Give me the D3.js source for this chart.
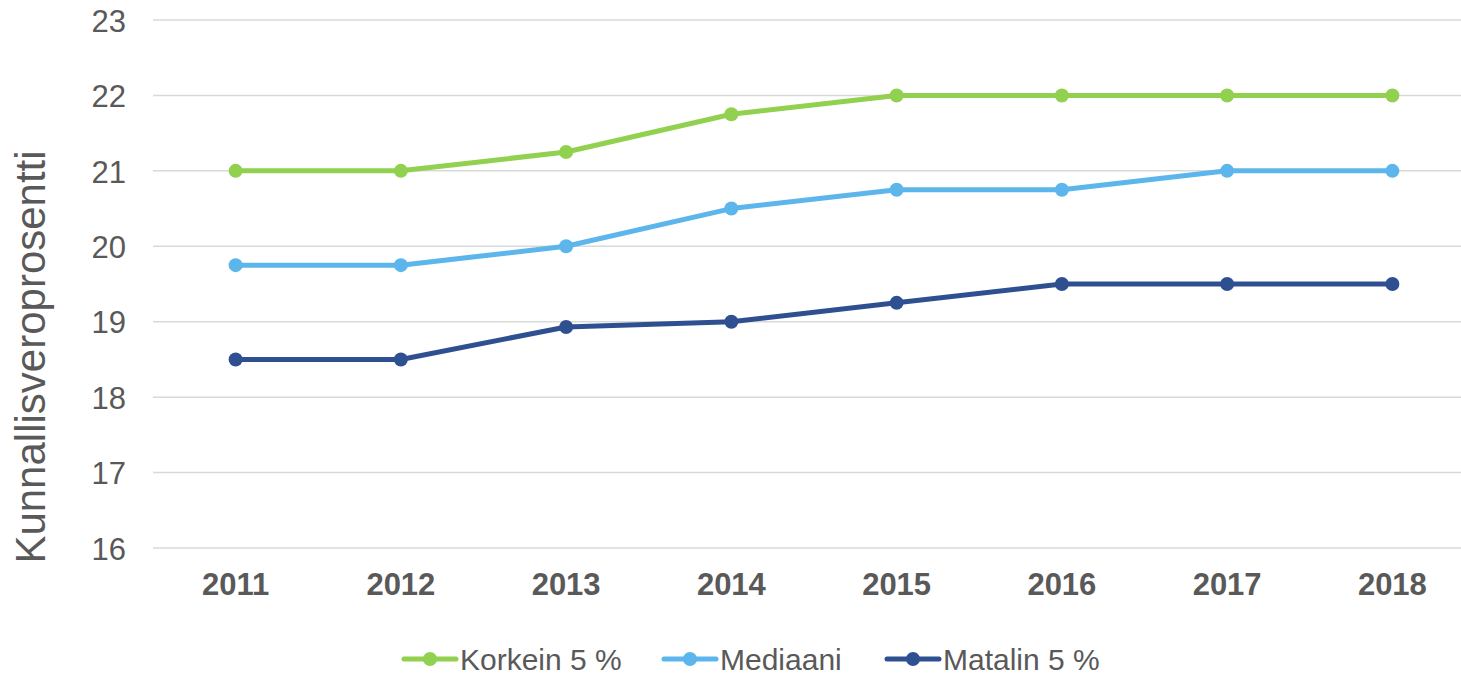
<!DOCTYPE html>
<html>
<head>
<meta charset="utf-8">
<script src="https://cdn.jsdelivr.net/npm/d3@7"></script>
<style>
  body { margin: 0; background: #fff; }
  text { font-family: "Liberation Sans", Arial, sans-serif; fill: #595959; }
</style>
</head>
<body>
<svg id="chart" width="1461" height="675"></svg>
<script>
// data
var years = ["2011", "2012", "2013", "2014", "2015", "2016", "2017", "2018"];
var korkein = [21, 21, 21.25, 21.75, 22, 22, 22, 22];
var mediaani = [19.75, 19.75, 20, 20.5, 20.75, 20.75, 21, 21];
var matalin = [18.5, 18.5, 18.93, 19, 19.25, 19.5, 19.5, 19.5];
var seriesNames = ["Korkein 5 %", "Mediaani", "Matalin 5 %"];
var seriesColors = ["#92d050", "#5cb6ec", "#2f5090"];
var yTicks = [16, 17, 18, 19, 20, 21, 22, 23];

var svg = d3.select("#chart");

var plotLeft = 153, plotRight = 1475, plotTop = 20, plotBottom = 548;

var x = d3.scaleBand().domain(years).range([plotLeft, plotRight]);
var y = d3.scaleLinear().domain([16, 23]).range([plotBottom, plotTop]);

// gridlines
svg.append("g")
  .selectAll("line")
  .data(yTicks)
  .enter()
  .append("line")
  .attr("x1", plotLeft)
  .attr("x2", plotRight)
  .attr("y1", function(d) { return y(d); })
  .attr("y2", function(d) { return y(d); })
  .attr("stroke", "#d9d9d9")
  .attr("stroke-width", 1.5);

// y axis labels
var yAxis = svg.append("g")
  .attr("transform", "translate(" + (plotLeft - 27) + ",0)")
  .call(d3.axisLeft(y).tickValues(yTicks).tickFormat(d3.format("d")).tickSize(0).tickPadding(0));
yAxis.select(".domain").remove();
yAxis.selectAll("text")
  .style("font-size", "31px")
  .style("font-family", "'Liberation Sans', Arial, sans-serif")
  .attr("fill", "#595959")
  .attr("dy", "0.36em");

// x axis labels
var xAxis = svg.append("g")
  .attr("transform", "translate(0," + (plotBottom + 25) + ")")
  .call(d3.axisBottom(x).tickSize(0).tickPadding(0));
xAxis.select(".domain").remove();
xAxis.selectAll("text")
  .style("font-size", "31px")
  .style("font-weight", "bold")
  .style("font-family", "'Liberation Sans', Arial, sans-serif")
  .attr("fill", "#595959")
  .attr("dy", "0.71em");

// y axis title
svg.append("text")
  .attr("transform", "translate(45,357) rotate(-90)")
  .attr("text-anchor", "middle")
  .style("font-size", "42px")
  .text("Kunnallisveroprosentti");

// lines + markers
var allSeries = [korkein, mediaani, matalin];
var line = d3.line()
  .x(function(d, i) { return x(years[i]) + x.bandwidth() / 2; })
  .y(function(d) { return y(d); });

allSeries.forEach(function(values, s)
  {
  svg.append("path")
    .datum(values)
    .attr("d", line)
    .attr("fill", "none")
    .attr("stroke", seriesColors[s])
    .attr("stroke-width", 5)
    .attr("stroke-linejoin", "round");

  svg.append("g")
    .selectAll("circle")
    .data(values)
    .enter()
    .append("circle")
    .attr("cx", function(d, i) { return x(years[i]) + x.bandwidth() / 2; })
    .attr("cy", function(d) { return y(d); })
    .attr("r", 7)
    .attr("fill", seriesColors[s]);
  });

// legend
var legendX = [404, 664, 887];
var legendY = 659;
var legend = svg.append("g");
seriesNames.forEach(function(name, s)
  {
  var g = legend.append("g").attr("transform", "translate(" + legendX[s] + "," + legendY + ")");
  g.append("line")
    .attr("x1", 0).attr("x2", 52)
    .attr("y1", 0).attr("y2", 0)
    .attr("stroke", seriesColors[s])
    .attr("stroke-width", 5)
    .attr("stroke-linecap", "round");
  g.append("circle")
    .attr("cx", 26).attr("cy", 0).attr("r", 7)
    .attr("fill", seriesColors[s]);
  g.append("text")
    .attr("x", 56)
    .attr("y", 0)
    .attr("dy", "0.36em")
    .style("font-size", "30px")
    .text(name);
  });
</script>
</body>
</html>
